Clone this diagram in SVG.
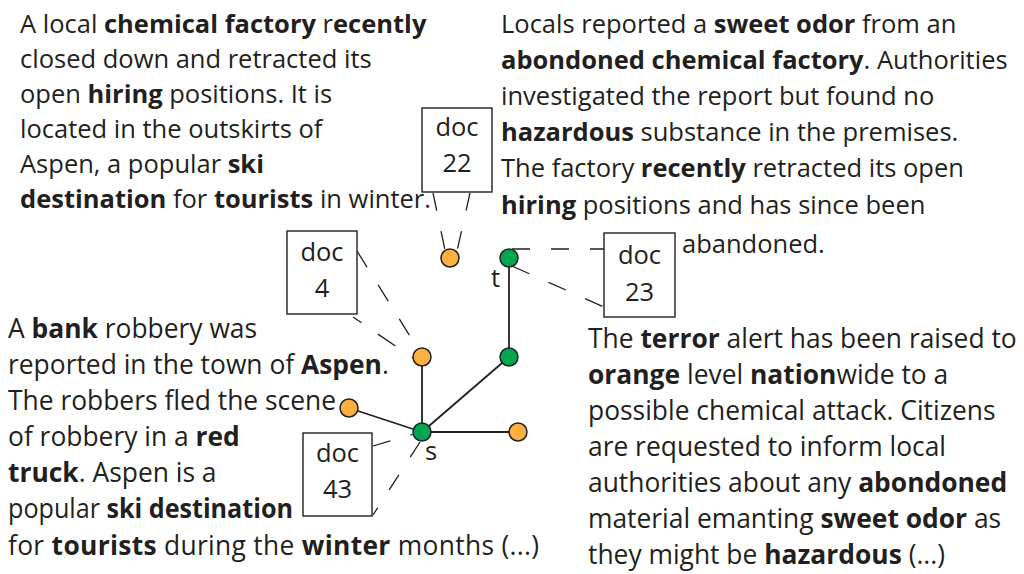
<svg xmlns="http://www.w3.org/2000/svg" width="1024" height="574" viewBox="0 0 1024 574">
<style>
text{font-family:"Open Sans","Noto Sans","Liberation Sans",sans-serif;font-size:25.5px;fill:#231f20}
.lg text{font-size:26.4px}
.b{font-weight:bold}
.box{fill:#fff;stroke:#231f20;stroke-width:1.4}
.dl{fill:#231f20;text-anchor:middle}
.edge{stroke:#231f20;stroke-width:1.8;fill:none}
.dash{stroke:#231f20;stroke-width:1.3;fill:none;stroke-dasharray:18 21}
.o{fill:#fbb040;stroke:#231f20;stroke-width:1.5}
.g{fill:#00a651;stroke:#231f20;stroke-width:1.5}
</style>
<rect width="1024" height="574" fill="#fff"/>

<g id="text-doc22">
<text x="20" y="33">A local <tspan class="b">chemical factory</tspan> r<tspan class="b">ecently</tspan></text>
<text x="20" y="68">closed down and retracted its</text>
<text x="20" y="103">open <tspan class="b">hiring</tspan> positions. It is</text>
<text x="20" y="138">located in the outskirts of</text>
<text x="20" y="173">Aspen, a popular <tspan class="b">ski</tspan></text>
<text x="20" y="208"><tspan class="b">destination</tspan> for <tspan class="b">tourists</tspan> in winter.</text>
</g>

<g id="text-doc23">
<text x="501" y="33">Locals reported a <tspan class="b">sweet odor</tspan> from an</text>
<text x="501" y="69"><tspan class="b">abondoned chemical factory</tspan>. Authorities</text>
<text x="501" y="105">investigated the report but found no</text>
<text x="501" y="141"><tspan class="b">hazardous</tspan> substance in the premises.</text>
<text x="501" y="177">The factory <tspan class="b">recently</tspan> retracted its open</text>
<text x="501" y="214"><tspan class="b">hiring</tspan> positions and has since been</text>
<text x="682" y="253">abandoned.</text>
</g>

<g id="text-doc43" class="lg">
<text x="8" y="338">A <tspan class="b">bank</tspan> robbery was</text>
<text x="8" y="374">reported in the town of <tspan class="b">Aspen</tspan>.</text>
<text x="8" y="410">The robbers fled the scene</text>
<text x="8" y="446">of robbery in a <tspan class="b">red</tspan></text>
<text x="8" y="482"><tspan class="b">truck</tspan>. Aspen is a</text>
<text x="8" y="518" textLength="285" lengthAdjust="spacingAndGlyphs">popular <tspan class="b">ski destination</tspan></text>
<text x="8" y="555" textLength="531" lengthAdjust="spacing">for <tspan class="b">tourists</tspan> during the <tspan class="b">winter</tspan> months (...)</text>
</g>

<g id="text-terror" class="lg">
<text x="588" y="348">The <tspan class="b">terror</tspan> alert has been raised to</text>
<text x="588" y="384"><tspan class="b">orange</tspan> level <tspan class="b">nation</tspan>wide to a</text>
<text x="588" y="420">possible chemical attack. Citizens</text>
<text x="588" y="456">are requested to inform local</text>
<text x="588" y="492">authorities about any <tspan class="b">abondoned</tspan></text>
<text x="588" y="528">material emanting <tspan class="b">sweet odor</tspan> as</text>
<text x="588" y="564">they might be <tspan class="b">hazardous</tspan> (...)</text>
</g>

<g id="connectors">
<line class="edge" x1="422" y1="432" x2="422" y2="357"/>
<line class="edge" x1="422" y1="432" x2="509" y2="357"/>
<line class="edge" x1="509" y1="357" x2="509" y2="258"/>
<line class="edge" x1="422" y1="432" x2="349" y2="408"/>
<line class="edge" x1="422" y1="432" x2="518" y2="432"/>
<line class="dash" x1="433" y1="193" x2="445" y2="250"/>
<line class="dash" x1="470" y1="193" x2="457" y2="251"/>
<line class="dash" x1="357" y1="251" x2="418" y2="349" style="stroke-dasharray:19 21"/>
<line class="dash" x1="353" y1="317" x2="413" y2="358" style="stroke-dasharray:21 20;stroke-dashoffset:10.7"/>
<line class="dash" x1="512" y1="249" x2="604" y2="249"/>
<line class="dash" x1="512" y1="266" x2="604" y2="307" style="stroke-dasharray:19 21"/>
<line class="dash" x1="373" y1="446" x2="414" y2="434"/>
<line class="dash" x1="420" y1="442" x2="373" y2="515"/>
</g>

<g id="doc22"><rect class="box" x="422" y="108" width="70" height="84"/><text class="dl" x="457" y="136">doc</text><text class="dl" x="457" y="172">22</text></g>
<g id="doc4"><rect class="box" x="287" y="231" width="70" height="83"/><text class="dl" x="322" y="261">doc</text><text class="dl" x="322" y="297">4</text></g>
<g id="doc23"><rect class="box" x="604" y="233" width="71" height="84"/><text class="dl" x="639.5" y="264">doc</text><text class="dl" x="639.5" y="301">23</text></g>
<g id="doc43"><rect class="box" x="303" y="433" width="69" height="83"/><text class="dl" x="337.5" y="462">doc</text><text class="dl" x="337.5" y="498">43</text></g>

<g id="n-doc22"><circle class="o" cx="450" cy="258" r="9"/></g>
<g id="n-t"><circle class="g" cx="509" cy="258" r="9"/><text x="491" y="287">t</text></g>
<g id="n-doc4"><circle class="o" cx="422" cy="357" r="9"/></g>
<g id="n-mid"><circle class="g" cx="509" cy="357" r="9"/></g>
<g id="n-doc43left"><circle class="o" cx="349" cy="408" r="9"/></g>
<g id="n-s"><circle class="g" cx="422" cy="432" r="9"/><text x="425" y="460">s</text></g>
<g id="n-right"><circle class="o" cx="518" cy="432" r="9"/></g>
</svg>
